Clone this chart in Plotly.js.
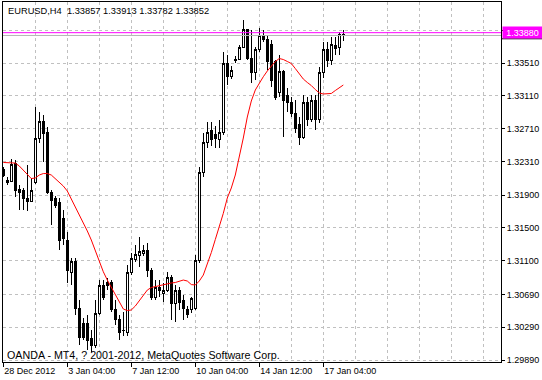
<!DOCTYPE html>
<html>
<head>
<meta charset="utf-8">
<script src="https://cdn.plot.ly/plotly-3.0.1.min.js"></script>
<style>
html,body{margin:0;padding:0;background:#fff;}
#chart{width:542px;height:380px;}
.boxlayer path{shape-rendering:crispEdges;}
</style>
</head>
<body>
<div id="chart"></div>
<script>
const symbol = 'EURUSD';
const timeframe = 'H4';
const footerText = 'OANDA - MT4, ? 2001-2012, MetaQuotes Software Corp.';

const openP = [1.32218,1.32060,1.32072,1.32291,1.31974,1.31962,1.31865,1.31828,1.32048,1.32596,
1.32803,1.32669,1.31938,1.31853,1.31816,1.31621,1.31353,1.30963,1.31085,1.30524,
1.30341,1.30341,1.30158,1.30073,1.30463,1.30804,1.30841,1.30829,1.30500,1.30378,
1.30244,1.30231,1.30963,1.31121,1.31170,1.31194,1.31231,1.30987,1.30658,1.30780,
1.30707,1.30743,1.30890,1.30585,1.30743,1.30621,1.30500,1.30500,1.30524,1.31109,
1.32170,1.32547,1.32682,1.32645,1.32572,1.32669,1.33510,1.33340,1.33559,1.33559,
1.33705,1.33913,1.33571,1.33389,1.33669,1.33840,1.33791,1.33730,1.33523,1.33157,
1.33401,1.33120,1.33035,1.32901,1.32767,1.32608,1.33035,1.32816,1.33059,1.32816,
1.33389,1.33669,1.33547,1.33718,1.33705,1.33857];

const highP = [1.32243,1.32121,1.32340,1.32328,1.32023,1.31987,1.32267,1.32109,1.32974,1.32913,
1.32877,1.32730,1.31962,1.31889,1.31865,1.31718,1.31450,1.31133,1.31133,1.30621,
1.30402,1.30439,1.30256,1.30621,1.30865,1.30865,1.30890,1.30865,1.30621,1.30439,
1.30475,1.31048,1.31194,1.31292,1.31389,1.31292,1.31316,1.31011,1.30865,1.30865,
1.30829,1.30963,1.30926,1.30804,1.30780,1.30682,1.30548,1.30658,1.31170,1.32243,
1.32657,1.32791,1.32791,1.32742,1.32816,1.33645,1.33608,1.33474,1.33596,1.33730,
1.34035,1.33925,1.33913,1.33705,1.33937,1.33913,1.33852,1.33791,1.33547,1.33608,
1.33425,1.33206,1.33096,1.33059,1.32852,1.33120,1.33096,1.33120,1.33120,1.33462,
1.33766,1.33766,1.33827,1.33827,1.33888,1.33913];

const lowP = [1.32121,1.32023,1.32060,1.31877,1.31718,1.31718,1.31706,1.31816,1.32035,1.32535,
1.32304,1.31914,1.31536,1.31743,1.31231,1.31292,1.30829,1.30804,1.30439,1.30073,
1.30134,1.30012,1.29988,1.30036,1.30439,1.30621,1.30743,1.30475,1.30317,1.30134,
1.30183,1.30183,1.30926,1.31085,1.31024,1.31158,1.30902,1.30621,1.30621,1.30658,
1.30597,1.30719,1.30378,1.30353,1.30500,1.30378,1.30402,1.30463,1.30500,1.31072,
1.32121,1.32474,1.32499,1.32474,1.32474,1.32633,1.33242,1.33315,1.33510,1.33547,
1.33693,1.33547,1.33267,1.33303,1.33645,1.33766,1.33425,1.33218,1.33059,1.33096,
1.32608,1.32913,1.32852,1.32657,1.32511,1.32584,1.32742,1.32791,1.32694,1.32779,
1.33328,1.33462,1.33486,1.33608,1.33608,1.33782];

const closeP = [1.32145,1.32084,1.32279,1.31962,1.31938,1.31865,1.31828,1.31962,1.32596,1.32803,
1.32657,1.31938,1.31840,1.31779,1.31353,1.31377,1.30987,1.31085,1.30524,1.30170,
1.30170,1.30134,1.30073,1.30463,1.30804,1.30658,1.30804,1.30500,1.30378,1.30231,
1.30256,1.30963,1.31133,1.31182,1.31207,1.31231,1.30987,1.30658,1.30780,1.30743,
1.30743,1.30890,1.30585,1.30743,1.30597,1.30524,1.30439,1.30634,1.31109,1.32170,
1.32547,1.32669,1.32584,1.32596,1.32669,1.33510,1.33340,1.33425,1.33547,1.33705,
1.33913,1.33571,1.33389,1.33681,1.33840,1.33803,1.33523,1.33303,1.33096,1.33401,
1.33059,1.33023,1.32901,1.32718,1.32608,1.33035,1.32816,1.33059,1.32816,1.33389,
1.33669,1.33547,1.33730,1.33693,1.33852,1.33852];

const maP = [1.32298,1.32298,1.32294,1.32291,1.32255,1.32206,1.32145,1.32102,1.32109,1.32145,
1.32163,1.32163,1.32145,1.32102,1.32060,1.32011,1.31950,1.31853,1.31759,1.31676,
1.31576,1.31463,1.31353,1.31219,1.31085,1.30966,1.30865,1.30780,1.30695,1.30597,
1.30512,1.30493,1.30500,1.30548,1.30609,1.30682,1.30743,1.30774,1.30786,1.30798,
1.30810,1.30823,1.30829,1.30835,1.30847,1.30865,1.30853,1.30810,1.30804,1.30853,
1.30926,1.31054,1.31200,1.31359,1.31511,1.31678,1.31865,1.31987,1.32145,1.32352,
1.32596,1.32852,1.33047,1.33181,1.33267,1.33343,1.33413,1.33474,1.33529,1.33565,
1.33553,1.33529,1.33504,1.33443,1.33376,1.33315,1.33273,1.33236,1.33187,1.33145,
1.33133,1.33133,1.33139,1.33175,1.33206,1.33242];

const xTickBars = [0, 16, 32, 48, 64, 80];
const xTickLabels = ['28 Dec 2012', '3 Jan 04:00', '7 Jan 12:00', '10 Jan 04:00', '14 Jan 12:00', '17 Jan 04:00'];
const yTickVals = [1.29890, 1.30290, 1.30690, 1.31100, 1.31500, 1.31900, 1.32310, 1.32710, 1.33110, 1.33510, 1.33910];
const bidPrice = 1.33880;
const greyLinePrice = 1.33846;

const barIdx = openP.map((_, i) => i);
const last = openP.length - 1;

const traces = [
  {
    type: 'candlestick',
    x: barIdx, open: openP, high: highP, low: lowP, close: closeP,
    increasing: {line: {color: '#000000', width: 1}, fillcolor: '#ffffff'},
    decreasing: {line: {color: '#000000', width: 1}, fillcolor: '#000000'},
    whiskerwidth: 0,
    hoverinfo: 'skip'
  },
  {
    type: 'scatter', mode: 'lines',
    x: barIdx, y: maP,
    line: {color: '#ff0000', width: 1},
    hoverinfo: 'skip'
  },
  {
    type: 'scatter', mode: 'lines',
    x: [-1, 200], y: [greyLinePrice, greyLinePrice],
    line: {color: '#b4b4b4', width: 1},
    hoverinfo: 'skip'
  },
  {
    type: 'scatter', mode: 'lines',
    x: [-1, 200], y: [bidPrice, bidPrice],
    line: {color: '#ff00ff', width: 1},
    hoverinfo: 'skip'
  }
];

const gridStyle = {showgrid: true, gridcolor: '#c0c0c0', griddash: '3px,3px', gridwidth: 1};

const headerText = symbol + ',' + timeframe + '\u00a0\u00a0' +
  [openP[last], highP[last], lowP[last], closeP[last]].map(v => v.toFixed(5)).join(' ');

const layout = {
  width: 542, height: 380,
  margin: {l: 3, r: 41, t: 2, b: 18, pad: 0},
  paper_bgcolor: '#ffffff', plot_bgcolor: '#ffffff',
  showlegend: false,
  boxgap: 0.5,
  font: {family: '"Liberation Sans", Arial, sans-serif', size: 9, color: '#000000'},
  xaxis: Object.assign({
    type: 'linear',
    range: [-0.075, 124.425],
    tickmode: 'array', tickvals: xTickBars, ticktext: xTickLabels,
    ticks: 'outside', ticklen: 4, tickwidth: 1, tickcolor: '#000000',
    ticklabelposition: 'outside right',
    tickfont: {size: 9, color: '#000000'},
    minor: {tickmode: 'linear', tick0: 0, dtick: 8, showgrid: true, gridcolor: '#c0c0c0', griddash: '3px,3px', gridwidth: 1, ticks: ''},
    showline: true, linecolor: '#000000', linewidth: 1, mirror: true,
    zeroline: false, fixedrange: true,
    rangeslider: {visible: false}
  }, gridStyle),
  yaxis: Object.assign({
    side: 'right',
    range: [1.29866, 1.34254],
    tickmode: 'array', tickvals: yTickVals, ticktext: yTickVals.map(v => v.toFixed(5)),
    ticks: 'outside', ticklen: 3, tickwidth: 1, tickcolor: '#000000',
    tickfont: {size: 9, color: '#000000'},
    showline: true, linecolor: '#000000', linewidth: 1, mirror: true,
    zeroline: false, fixedrange: true
  }, gridStyle),
  annotations: [
    {
      xref: 'paper', yref: 'paper', x: 0, y: 0.975, xanchor: 'left', yanchor: 'middle',
      xshift: 2.5, text: headerText, showarrow: false,
      font: {size: 9.3, color: '#000000'}
    },
    {
      xref: 'paper', yref: 'paper', x: 0, y: 0.0208, xanchor: 'left', yanchor: 'middle',
      xshift: 1.5, text: footerText, showarrow: false,
      font: {size: 10.7, color: '#000000'}
    },
    {
      xref: 'paper', yref: 'y', x: 1, y: bidPrice, xanchor: 'left', yanchor: 'middle',
      xshift: 0.5, text: bidPrice.toFixed(5), showarrow: false,
      bgcolor: '#ff00ff', borderpad: 1, width: 37, height: 9, align: 'center',
      font: {size: 9, color: '#ffffff'}
    }
  ],
  shapes: [
    {type: 'line', xref: 'paper', yref: 'paper', x0: 1.0, x1: 1.0823, y0: 0.8978, y1: 0.8978,
     line: {color: '#000000', width: 1}}
  ]
};

Plotly.newPlot('chart', traces, layout, {staticPlot: true, displayModeBar: false});
</script>
</body>
</html>
